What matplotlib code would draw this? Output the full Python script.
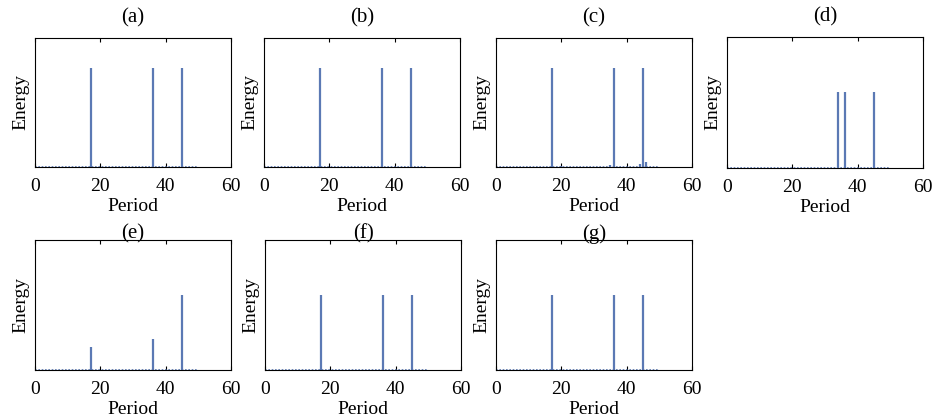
import matplotlib
matplotlib.use('Agg')
from matplotlib import pyplot as plt

plt.rcParams['font.family'] = ['Liberation Serif', 'DejaVu Serif']

# energy spectra per panel (period, energy)
labels = ['(a)', '(b)', '(c)', '(d)', '(e)', '(f)', '(g)']
periods = {
    '(a)': [17, 36, 45],
    '(b)': [17, 36, 45],
    '(c)': [17, 20, 35, 36, 44, 45, 46],
    '(d)': [34, 36, 45],
    '(e)': [17, 36, 45],
    '(f)': [17, 36, 45],
    '(g)': [17, 36, 45],
}
energies = {
    '(a)': [1.0, 1.0, 1.0],
    '(b)': [1.0, 1.0, 1.0],
    '(c)': [1.0, 0.01, 0.02, 1.0, 0.03, 1.0, 0.05],
    '(d)': [0.75, 0.75, 0.75],
    '(e)': [0.23, 0.31, 0.75],
    '(f)': [0.75, 0.75, 0.75],
    '(g)': [0.75, 0.75, 0.75],
}
max_period = 50
xticks = [0, 20, 40, 60]

col = '#5b79b4'
fig = plt.figure(figsize=(9.33, 4.2), dpi=100)

lefts = [35, 264, 496, 727, 35, 265, 496]
tops = [38, 38, 38, 37, 240, 240, 240]
bottoms = [167, 167, 167, 168, 370, 370, 370]
W, H = 933, 420

for i, lab in enumerate(labels):
    l = lefts[i] / W
    b = 1 - bottoms[i] / H
    h = (bottoms[i] - tops[i]) / H
    ax = fig.add_axes([l, b, 196 / W, h])
    ax.hlines(0.004, 0, max_period, colors=col, linestyles=(0, (1, 1)), lw=1.2)
    ax.vlines(periods[lab], 0, energies[lab], colors=col, lw=1.6)
    ax.set_xlim(0, 60)
    ax.set_ylim(0, 1.3)
    ax.set_xticks(xticks)
    ax.set_yticks([])
    ax.tick_params(axis='x', direction='in', top=True, length=3, labelsize=14, pad=8)
    ax.set_xlabel('Period', fontsize=14, labelpad=2)
    ax.set_ylabel('Energy', fontsize=14, labelpad=4)
    pad = 11 if i < 4 else 1
    ax.set_title(lab, fontsize=15, pad=pad)

plt.savefig('out.png', dpi=100)
